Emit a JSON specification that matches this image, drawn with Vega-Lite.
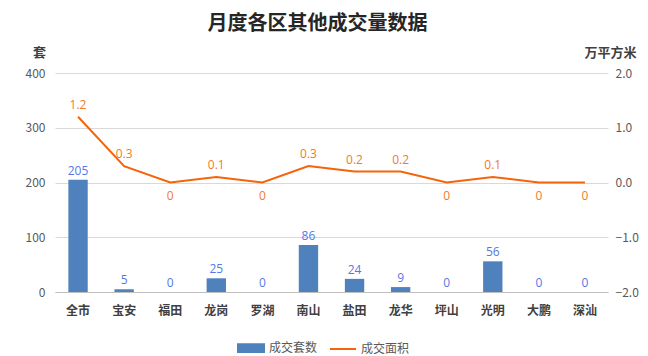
{
  "$schema": "https://vega.github.io/schema/vega-lite/v6.json",
  "width": 553,
  "height": 219,
  "autosize": {"type": "none"},
  "padding": {"left": 55, "top": 73, "right": 40, "bottom": 64},
  "background": "white",
  "title": {"text": "月度各区其他成交量数据", "font": "Noto Sans CJK SC", "fontSize": 20, "fontWeight": "bold", "color": "#262626", "anchor": "middle", "dx": -14, "offset": 12},
  "config": {
    "view": {"stroke": null},
    "font": "Noto Sans CJK SC",
    "axis": {"labelFont": "Noto Sans CJK SC", "titleFont": "Noto Sans CJK SC"}
  },
  "data": {"values": [
    {"district": "全市", "count": 205, "area": 1.2},
    {"district": "宝安", "count": 5, "area": 0.3},
    {"district": "福田", "count": 0, "area": 0},
    {"district": "龙岗", "count": 25, "area": 0.1},
    {"district": "罗湖", "count": 0, "area": 0},
    {"district": "南山", "count": 86, "area": 0.3},
    {"district": "盐田", "count": 24, "area": 0.2},
    {"district": "龙华", "count": 9, "area": 0.2},
    {"district": "坪山", "count": 0, "area": 0},
    {"district": "光明", "count": 56, "area": 0.1},
    {"district": "大鹏", "count": 0, "area": 0},
    {"district": "深汕", "count": 0, "area": 0}
  ]},
  "encoding": {
    "x": {"field": "district", "type": "nominal", "sort": null,
      "scale": {"paddingInner": 0, "paddingOuter": 0},
      "axis": {"title": null, "labelAngle": 0, "ticks": false, "domainColor": "#BFBFBF", "labelColor": "#404040", "labelFontSize": 12, "labelFontWeight": "bold", "labelPadding": 13}}
  },
  "layer": [
    {
      "layer": [
        {
          "mark": {"type": "bar", "width": {"band": 0.42}},
          "encoding": {
            "y": {"field": "count", "type": "quantitative", "scale": {"domain": [0, 400]},
              "axis": {"title": "套", "titleAngle": 0, "titleX": -16, "titleY": -21, "titleAlign": "center", "titleBaseline": "middle", "titleFontSize": 13, "titleFontWeight": "bold", "titleColor": "#404040",
                "values": [0, 100, 200, 300, 400], "domain": false, "ticks": false, "gridColor": "#D9D9D9", "labelColor": "#595959", "labelFontSize": 12, "labelPadding": 10}},
            "color": {"datum": "成交套数", "type": "nominal",
              "scale": {"domain": ["成交套数", "成交面积"], "range": ["#4F81BD", "#F5640A"]},
              "legend": {"title": null, "orient": "none", "legendX": 182, "legendY": 261, "direction": "horizontal", "labelFontSize": 12, "labelColor": "#595959", "symbolSize": 676, "columnPadding": 8, "labelOffset": 4,
                "encode": {"symbols": {"update": {
                  "shape": {"signal": "datum.value === '成交套数' ? 'M-1,-0.3H1V0.3H-1Z' : 'M-1,0H1'"},
                  "fill": {"signal": "datum.value === '成交套数' ? '#4F81BD' : 'transparent'"},
                  "stroke": {"signal": "datum.value === '成交面积' ? '#F5640A' : 'transparent'"},
                  "strokeWidth": {"value": 2}
                }}}}}
          }
        },
        {
          "mark": {"type": "text", "dy": -9, "fontSize": 12, "color": "#5677E6", "font": "Open Sans"},
          "encoding": {
            "y": {"field": "count", "type": "quantitative", "scale": {"domain": [0, 400]}},
            "text": {"field": "count", "type": "quantitative"}
          }
        }
      ]
    },
    {
      "layer": [
        {
          "mark": {"type": "line", "strokeWidth": 2},
          "encoding": {
            "y": {"field": "area", "type": "quantitative", "scale": {"domain": [-2, 2]},
              "axis": {"orient": "right", "title": "万平方米", "titleAngle": 0, "titleX": 2, "titleY": -21, "titleAlign": "center", "titleBaseline": "middle", "titleFontSize": 13, "titleFontWeight": "bold", "titleColor": "#404040",
                "values": [-2, -1, 0, 1, 2], "format": ".1f", "grid": false, "domain": false, "ticks": false, "labelColor": "#595959", "labelFontSize": 12, "labelPadding": 7}},
            "color": {"datum": "成交面积", "type": "nominal"}
          }
        },
        {
          "transform": [{"filter": "datum.area > 0"}],
          "mark": {"type": "text", "dy": -12, "fontSize": 12, "color": "#F07A2A", "font": "Open Sans"},
          "encoding": {
            "y": {"field": "area", "type": "quantitative", "scale": {"domain": [-2, 2]}},
            "text": {"field": "area", "type": "quantitative"}
          }
        },
        {
          "transform": [{"filter": "datum.area <= 0"}],
          "mark": {"type": "text", "dy": 13, "fontSize": 12, "color": "#F07A2A", "font": "Open Sans"},
          "encoding": {
            "y": {"field": "area", "type": "quantitative", "scale": {"domain": [-2, 2]}},
            "text": {"field": "area", "type": "quantitative"}
          }
        }
      ]
    }
  ],
  "resolve": {"scale": {"y": "independent"}}
}
